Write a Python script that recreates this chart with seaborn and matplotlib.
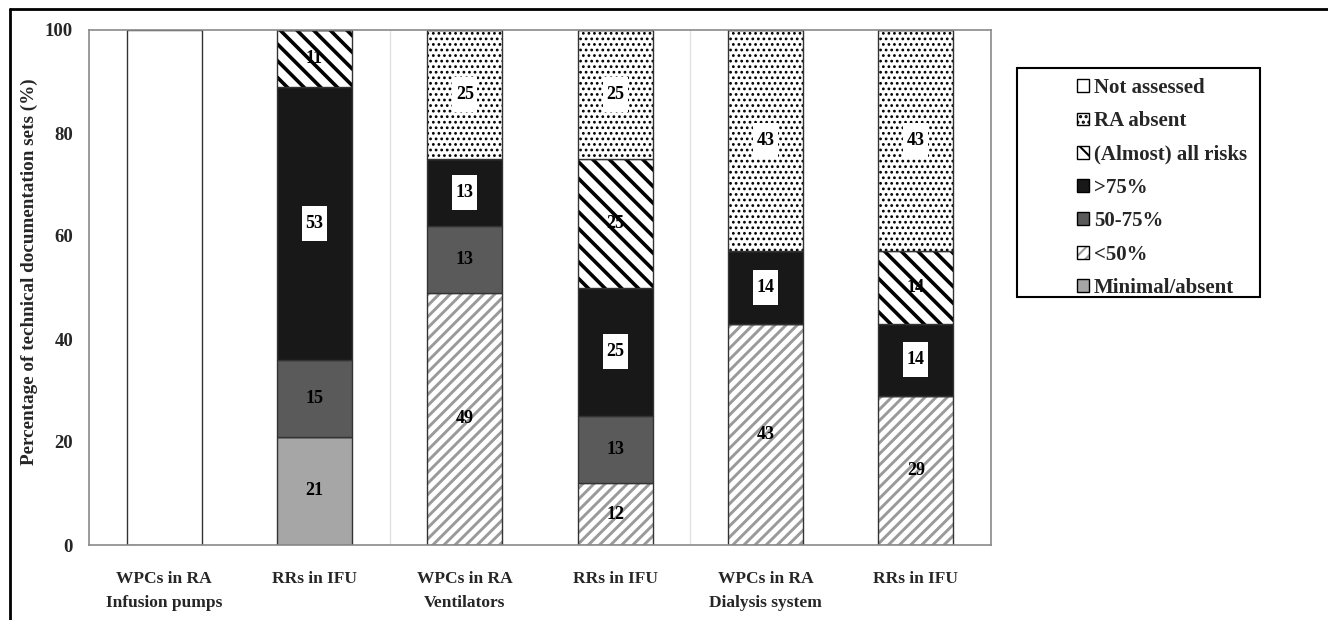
import numpy as np
import pandas as pd
import matplotlib
matplotlib.use('Agg')
import matplotlib.pyplot as plt
from matplotlib.patches import Patch, Rectangle
from matplotlib.lines import Line2D
from matplotlib.path import Path
import seaborn as sns

# x categories (left to right)
bar_labels = ['WPCs in RA\nInfusion pumps', 'RRs in IFU',
              'WPCs in RA\nVentilators', 'RRs in IFU',
              'WPCs in RA\nDialysis system', 'RRs in IFU']

# stacked segments, bottom to top (% of documentation sets)
minimal_absent = [0, 21, 0, 0, 0, 0]
below_50 = [0, 0, 49, 12, 43, 29]
pct_50_75 = [0, 15, 13, 13, 0, 0]
above_75 = [0, 53, 13, 25, 14, 14]
almost_all = [0, 11, 0, 25, 0, 14]
ra_absent = [0, 0, 25, 25, 43, 43]
not_assessed = [100, 0, 0, 0, 0, 0]

y_ticks = [0, 20, 40, 60, 80, 100]

# name, values, face, hatch, hatch colour, hatch lw, white label box, show label
layers = [
    ('Minimal/absent', minimal_absent, '#a6a6a6', None, None, 0, False, True),
    ('<50%', below_50, 'white', '///', '#9a9a9a', 2.1, False, True),
    ('50-75%', pct_50_75, '#5a5a5a', None, None, 0, False, True),
    ('>75%', above_75, '#181818', None, None, 0, True, True),
    ('(Almost) all risks', almost_all, 'white', '\\\\', 'black', 2.6, False, True),
    ('RA absent', ra_absent, 'white', '...', 'black', 1.2, True, True),
    ('Not assessed', not_assessed, 'white', None, None, 0, False, False),
]


def tall_box(x0, y0, width, height, mutation_size):
    # narrow, tall white label box like the original
    px, py = 0.2 * mutation_size, 0.5 * mutation_size
    x0, y0 = x0 - px, y0 - py
    x1, y1 = x0 + width + 2 * px, y0 + height + 2 * py
    return Path([(x0, y0), (x1, y0), (x1, y1), (x0, y1), (x0, y0)], closed=True)


sns.set_style('white')
plt.rcParams['font.family'] = ['Liberation Serif', 'DejaVu Serif']
plt.rcParams['font.weight'] = 'bold'
plt.rcParams['hatch.linewidth'] = 1.5

W, H = 1328, 620
fig = plt.figure(figsize=(W / 100, H / 100), dpi=100)
ax = fig.add_axes([89 / W, 1 - 545 / H, 902 / W, 515 / H])

edge = '#333333'
pos = list(range(len(bar_labels)))
bottom = np.zeros(len(pos))
handles = {}
for name, vals, face, hatch, hcol, hlw, boxed, show in layers:
    df = pd.DataFrame({'pos': pos, 'value': vals})
    n0 = len(ax.patches)
    if hatch:
        sns.barplot(data=df, x='pos', y='value', bottom=bottom, width=0.5,
                    color=face, saturation=1, facecolor=face, edgecolor=hcol,
                    linewidth=0, hatch=hatch, errorbar=None, ax=ax)
        new = ax.patches[n0:]
        for p in new:
            if hasattr(p, 'set_hatch_linewidth'):
                p.set_hatch_linewidth(hlw)
            # outline on top of the hatched fill
            ax.add_patch(Rectangle(p.get_xy(), p.get_width(), p.get_height(),
                                   fill=False, ec=edge, lw=1.0, zorder=p.get_zorder()))
        hp = Patch(facecolor=face, edgecolor=hcol, linewidth=0, hatch=hatch)
        if hasattr(hp, 'set_hatch_linewidth'):
            hp.set_hatch_linewidth(hlw * 0.8)
        handles[name] = (hp, Patch(facecolor='none', edgecolor='black', linewidth=1.0))
    else:
        sns.barplot(data=df, x='pos', y='value', bottom=bottom, width=0.5,
                    color=face, saturation=1, facecolor=face, edgecolor=edge,
                    linewidth=1.0, errorbar=None, ax=ax)
        handles[name] = Patch(facecolor=face, edgecolor='black', linewidth=1.0)

    if show:
        for i, v in enumerate(vals):
            if v <= 0:
                continue
            kw = {}
            if boxed:
                kw['bbox'] = dict(boxstyle=tall_box, fc='white', ec='none')
            ax.text(i, bottom[i] + v / 2, str(v), ha='center', va='center',
                    fontsize=13, fontweight='bold', color='black', zorder=5, **kw)
    bottom = bottom + np.array(vals)

# axes styling
ax.set_xlim(-0.5, 5.5)
ax.set_ylim(0, 100)
ax.set_yticks(y_ticks)
ax.set_yticklabels([str(t) for t in y_ticks], fontsize=13.5, fontweight='bold')
ax.set_xticks(pos)
ax.set_xticklabels(bar_labels, fontsize=12.5, fontweight='bold', linespacing=1.6)
ax.set_xticks([-0.5, 1.5, 3.5, 5.5], minor=True)
ax.tick_params(axis='y', length=0, pad=11.5)
ax.tick_params(axis='x', which='major', length=0, pad=19)
ax.tick_params(axis='x', which='minor', length=9, color='#dcdcdc', width=1, direction='out')
ax.set_xlabel('')
ax.set_ylabel('')
for x in [1.5, 3.5]:
    ax.axvline(x, color='#e2e2e2', lw=1, zorder=0)
for s in ax.spines.values():
    s.set_visible(True)
    s.set_color('#8a8a8a')
    s.set_linewidth(1.2)

fig.text(29.5 / W, 1 - 272 / H, 'Percentage of technical documentation sets (%)',
         rotation=90, ha='center', va='center', fontsize=13.8, fontweight='bold')

# legend: top entry first
order = ['Not assessed', 'RA absent', '(Almost) all risks', '>75%', '50-75%', '<50%', 'Minimal/absent']
fig.legend([handles[k] for k in order], order, loc='upper left',
           bbox_to_anchor=(1077 / W, 1 - 78 / H), frameon=False,
           borderpad=0, borderaxespad=0, handlelength=0.58, handleheight=0.58,
           handletextpad=0.22, labelspacing=0.64,
           prop={'size': 15, 'weight': 'bold'})
fig.add_artist(Rectangle((1017 / W, 1 - 297 / H), 243 / W, 229 / H,
                         transform=fig.transFigure, fill=False, ec='black', lw=1.5))
# outer frame of the figure (top and left edges)
fig.add_artist(Line2D([10 / W, 1.0], [1 - 9 / H, 1 - 9 / H], transform=fig.transFigure,
                      color='black', lw=2))
fig.add_artist(Line2D([10 / W, 10 / W], [0, 1 - 9 / H], transform=fig.transFigure,
                      color='black', lw=2))

fig.savefig('out.png', dpi=100)
